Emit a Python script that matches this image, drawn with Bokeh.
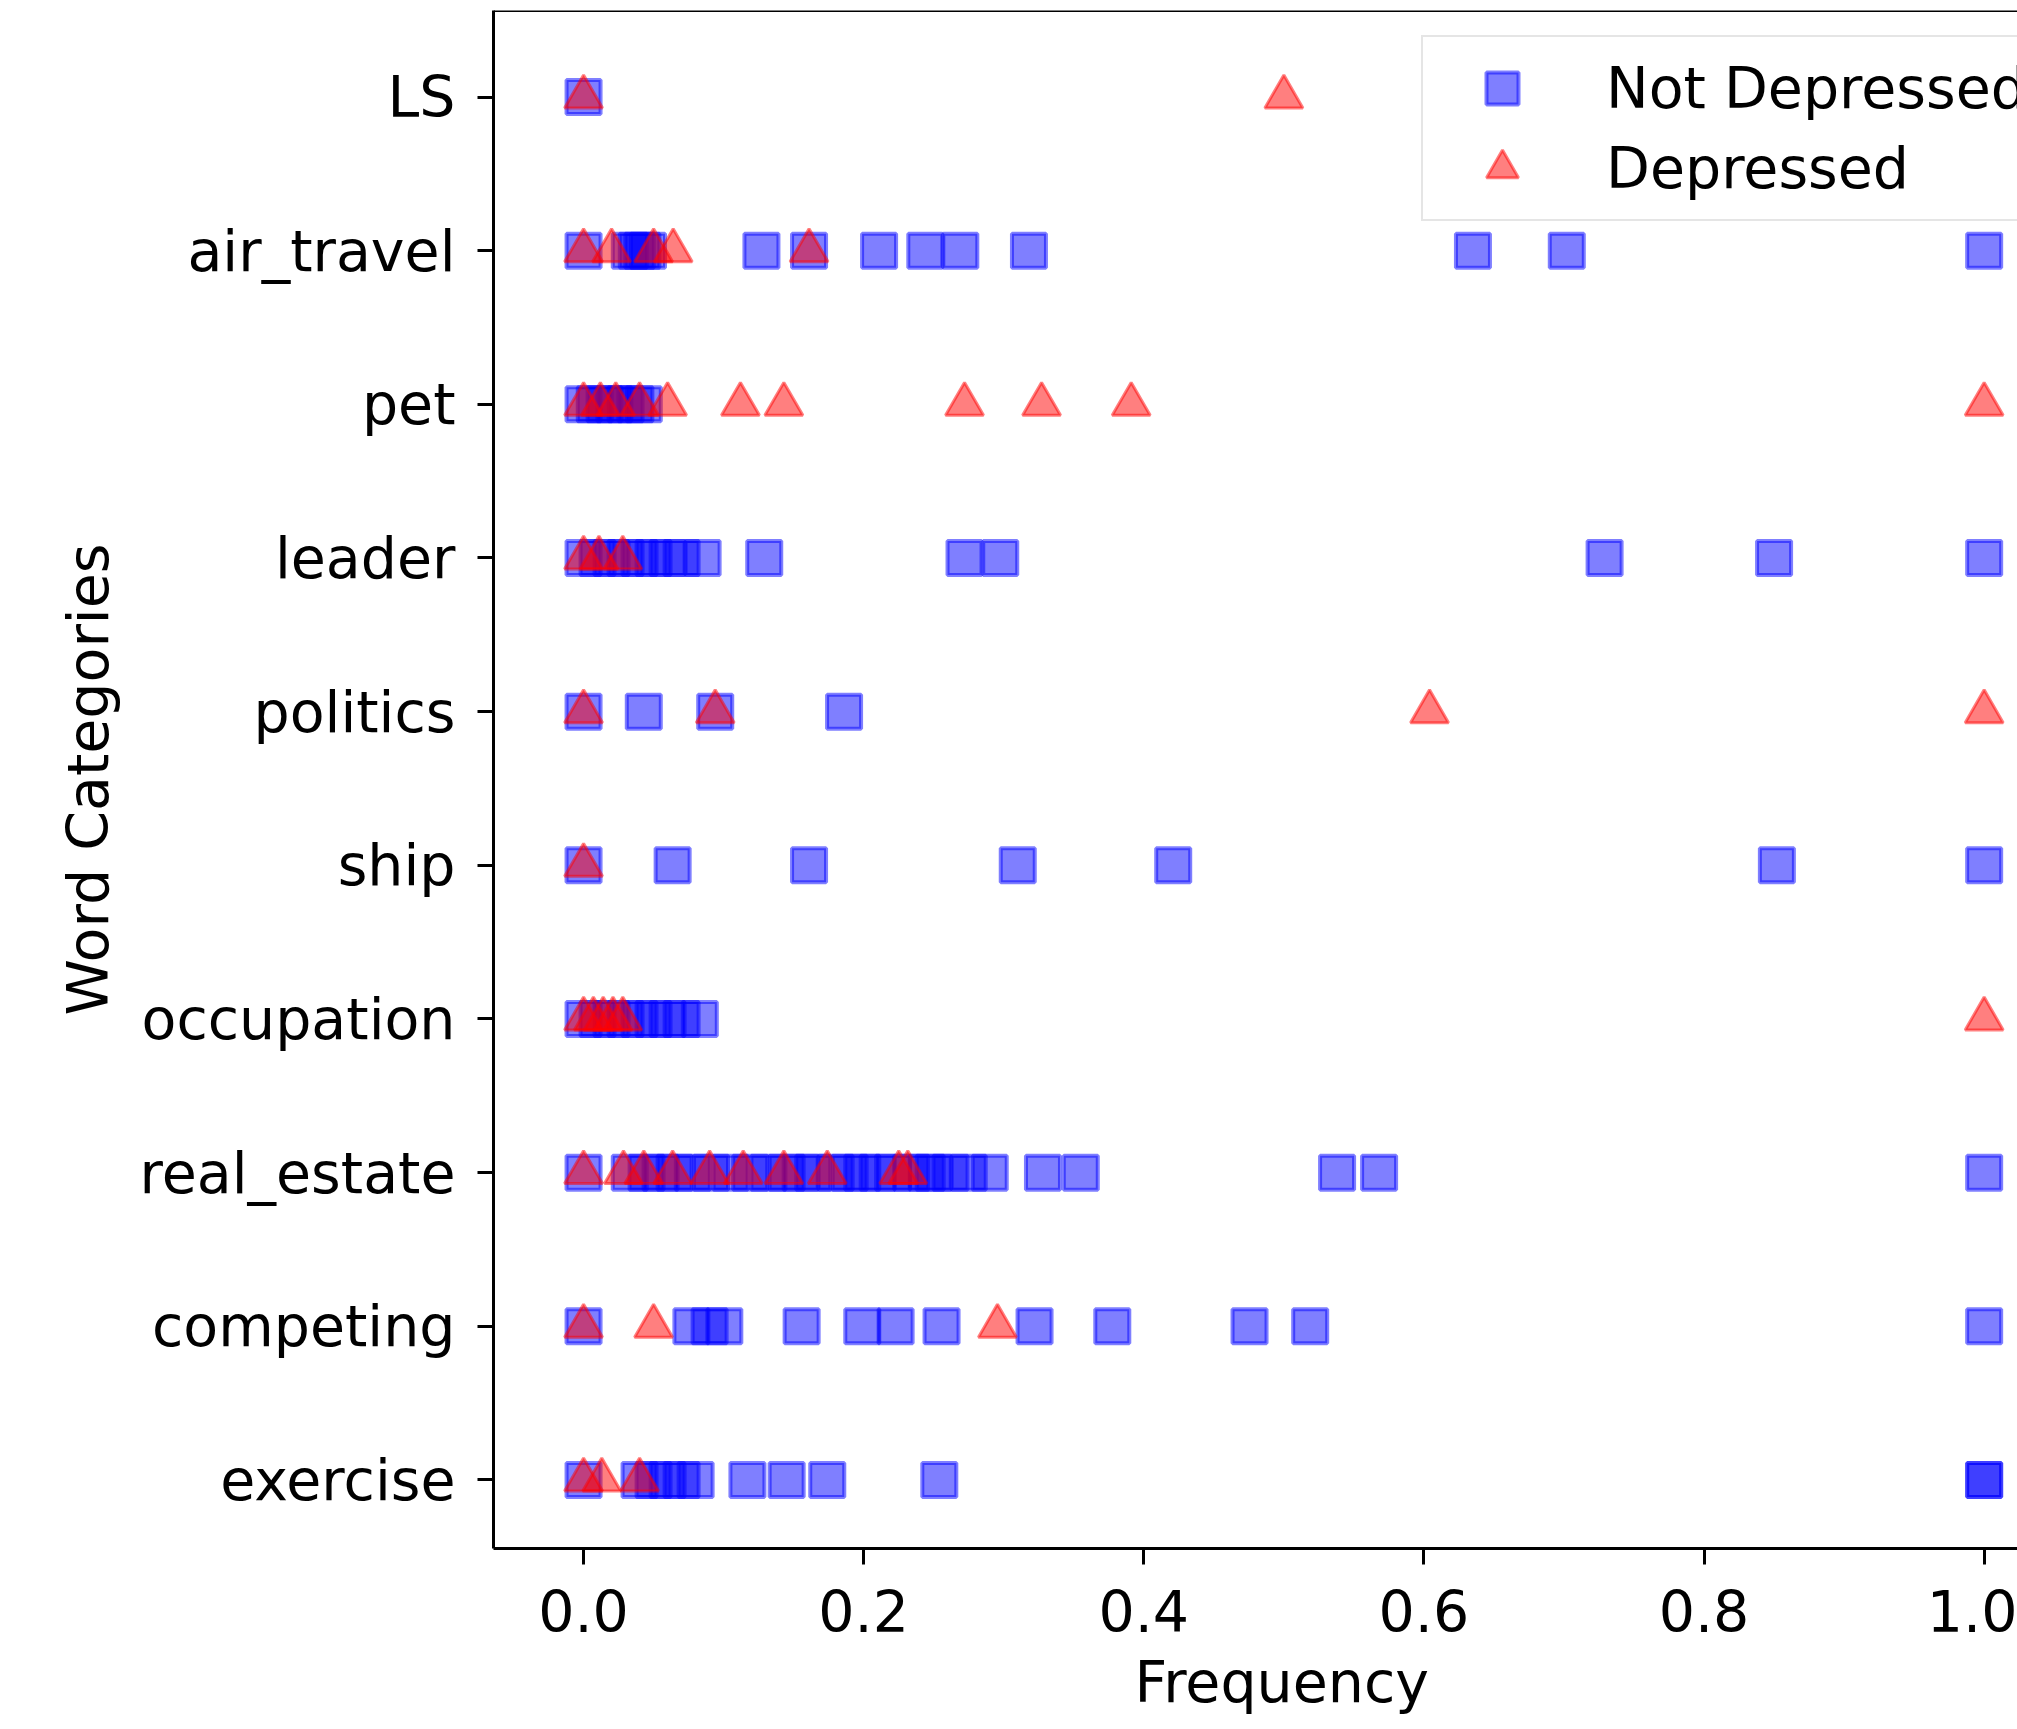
from bokeh.plotting import figure
from bokeh.models import (ColumnDataSource, FixedTicker, NumeralTickFormatter, Span,
                          Title, Legend, LegendItem)
from bokeh.embed import file_html
from bokeh.resources import INLINE

# ---------------- data ----------------
categories = ["exercise", "competing", "real_estate", "occupation", "ship",
              "politics", "leader", "pet", "air_travel", "LS"]

exercise_not_dep = [0.0, 0.04, 0.05, 0.06, 0.07, 0.08, 0.117, 0.145, 0.174, 0.254, 1.0, 1.0]
exercise_dep = [0.0, 0.013, 0.04]

competing_not_dep = [0.0, 0.077, 0.09, 0.1005, 0.1557, 0.199, 0.2228, 0.2556, 0.322,
                     0.3775, 0.4755, 0.5188, 1.0]
competing_dep = [0.0, 0.05, 0.2955]

real_estate_not_dep = [0.0, 0.033, 0.045, 0.055, 0.065, 0.078, 0.091, 0.105, 0.119, 0.132,
                       0.145, 0.155, 0.164, 0.18, 0.19, 0.199, 0.21, 0.221, 0.234, 0.245,
                       0.25, 0.262, 0.275, 0.29, 0.328, 0.355, 0.538, 0.568, 1.0]
real_estate_dep = [0.0, 0.0285, 0.043, 0.0636, 0.09, 0.114, 0.143, 0.174, 0.225, 0.2315]

occupation_not_dep = [0.0, 0.01, 0.02, 0.03, 0.04, 0.05, 0.06, 0.07, 0.083]
occupation_dep = [0.0, 0.007, 0.014, 0.021, 0.028, 1.0]

ship_not_dep = [0.0, 0.0636, 0.161, 0.31, 0.421, 0.852, 1.0]
ship_dep = [0.0]

politics_not_dep = [0.0, 0.043, 0.094, 0.186]
politics_dep = [0.0, 0.094, 0.604, 1.0]

leader_not_dep = [0.0, 0.01, 0.02, 0.03, 0.04, 0.05, 0.06, 0.07, 0.085, 0.129, 0.272,
                  0.2975, 0.729, 0.85, 1.0]
leader_dep = [0.0, 0.011, 0.028]

pet_not_dep = [0.0, 0.008, 0.015, 0.022, 0.03, 0.037, 0.043]
pet_dep = [0.0, 0.012, 0.023, 0.04, 0.06, 0.112, 0.143, 0.272, 0.327, 0.391, 1.0]

air_travel_not_dep = [0.0, 0.033, 0.038, 0.042, 0.046, 0.127, 0.161, 0.211, 0.244, 0.269,
                      0.318, 0.635, 0.702, 1.0]
air_travel_dep = [0.0, 0.02, 0.05, 0.064, 0.161]

ls_not_dep = [0.0]
ls_dep = [0.0, 0.5]

x_ticks = [0.0, 0.2, 0.4, 0.6, 0.8, 1.0]
series_labels = ["Not Depressed", "Depressed"]
x_title = "Frequency"
y_title = "Word Categories"

not_dep = {"exercise": exercise_not_dep, "competing": competing_not_dep,
           "real_estate": real_estate_not_dep, "occupation": occupation_not_dep,
           "ship": ship_not_dep, "politics": politics_not_dep, "leader": leader_not_dep,
           "pet": pet_not_dep, "air_travel": air_travel_not_dep, "LS": ls_not_dep}
dep = {"exercise": exercise_dep, "competing": competing_dep,
       "real_estate": real_estate_dep, "occupation": occupation_dep,
       "ship": ship_dep, "politics": politics_dep, "leader": leader_dep,
       "pet": pet_dep, "air_travel": air_travel_dep, "LS": ls_dep}


def to_source(d):
    xs, ys = [], []
    for cat in categories:
        for v in d[cat]:
            xs.append(v)
            ys.append(categories.index(cat))
    return ColumnDataSource(dict(x=xs, y=ys))


src_nd = to_source(not_dep)
src_d = to_source(dep)

# ---------------- figure ----------------
FONT = "DejaVu Sans"
FS = "57px"
X_START, X_END = -0.0643, 1.0238
Y_START, Y_END = -0.446, 9.563

p = figure(width=2017, height=1729, output_backend="svg", toolbar_location=None,
           x_range=(X_START, X_END), y_range=(Y_START, Y_END),
           min_border_left=493, min_border_right=0, min_border_top=10,
           min_border_bottom=181)
p.grid.visible = False
p.outline_line_color = None
p.background_fill_color = "white"
p.border_fill_color = "white"

# x axis
xa = p.xaxis[0]
xa.ticker = FixedTicker(ticks=x_ticks)
xa.formatter = NumeralTickFormatter(format="0.0")
xa.minor_tick_line_color = None
xa.major_tick_out = 16
xa.major_tick_in = 0
xa.major_tick_line_width = 3
xa.axis_line_width = 3
xa.major_label_text_font = FONT
xa.major_label_text_font_size = FS
xa.major_label_text_color = "black"
xa.major_label_standoff = 25

# y axis
ya = p.yaxis[0]
ya.ticker = FixedTicker(ticks=list(range(len(categories))))
ya.major_label_overrides = {i: c for i, c in enumerate(categories)}
ya.minor_tick_line_color = None
ya.major_tick_out = 16
ya.major_tick_in = 0
ya.major_tick_line_width = 3
ya.axis_line_width = 3
ya.major_label_text_font = FONT
ya.major_label_text_font_size = FS
ya.major_label_text_color = "black"
ya.major_label_standoff = 22
ya.axis_label = y_title
ya.axis_label_text_font = FONT
ya.axis_label_text_font_size = FS
ya.axis_label_text_font_style = "normal"
ya.axis_label_text_color = "black"
ya.axis_label_standoff = 16

# top frame line
p.add_layout(Span(location=Y_END, dimension="width", line_color="black", line_width=3))

# markers
r_nd = p.scatter("x", "y", source=src_nd, marker="square", size=34,
                 fill_color="blue", fill_alpha=0.5, line_color="blue",
                 line_alpha=0.5, line_width=4)
r_d = p.scatter("x", "y", source=src_d, marker="triangle", size=38,
                fill_color="red", fill_alpha=0.5, line_color="red",
                line_alpha=0.5, line_width=3)

# x-axis title (centred on the original, wider frame)
p.add_layout(Title(text=x_title, align="left", offset=641, standoff=25,
                   text_font=FONT, text_font_size=FS, text_font_style="normal",
                   text_color="black"), "below")

legend = Legend(items=[LegendItem(label=series_labels[0], renderers=[r_nd]),
                       LegendItem(label=series_labels[1], renderers=[r_d])],
                location=(928, 1327), orientation="vertical",
                label_text_font=FONT, label_text_font_size=FS,
                label_text_color="black",
                glyph_width=136, glyph_height=80, label_height=80,
                label_standoff=36, padding=11, spacing=0, margin=0,
                border_line_color="#cccccc", border_line_width=2,
                background_fill_color="white", background_fill_alpha=0.8)
p.add_layout(legend)

open("out.html", "w").write(file_html(p, INLINE))
